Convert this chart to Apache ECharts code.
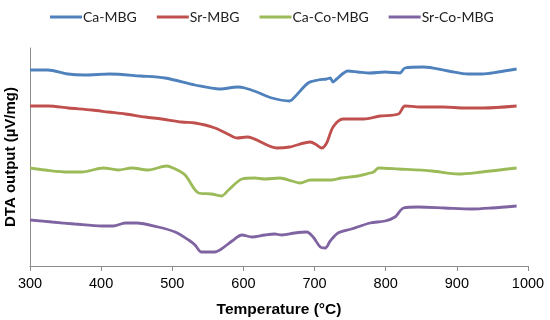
<!DOCTYPE html>
<html><head><meta charset="utf-8">
<script src="https://cdn.jsdelivr.net/npm/echarts@6/dist/echarts.min.js"></script>
<style>html,body{margin:0;padding:0;background:#fff}#c{width:550px;height:320px}</style>
</head><body><div id="c"></div>
<script>
const seriesNames = ['Ca-MBG', 'Sr-MBG', 'Ca-Co-MBG', 'Sr-Co-MBG'];
const xTicks = [300, 400, 500, 600, 700, 800, 900, 1000];
// [temperature °C, DTA output (arbitrary offset units)]
const caMBG = [[300,196],[325,196],[353,192],[377,191],[412,192],[455,190],[490,188],[532,181],[567,177],[592,179],[602,178],[619,174],[640,168],[665,165],[672,169],[691,183],[705,186],[717,187],[722,188],[726,184],[731,187],[747,195],[761,194],[778,193],[799,194],[820,193],[827,198],[853,199],[888,195],[916,192],[935,192],[958,194],[984,197]];
const srMBG = [[300,160],[326,160],[354,158],[387,156],[410,154],[434,152],[462,149],[485,147],[513,144],[532,143],[560,138],[586,129],[591,128],[605,129],[647,118],[665,119],[694,124],[703,121],[710,118],[717,123],[726,139],[740,147],[769,147],[792,150],[818,152],[827,160],[848,159],[881,159],[911,158],[937,158],[984,160]];
const caCoMBG = [[300,98],[321,96],[354,94],[373,94],[403,98],[424,96],[443,98],[466,96],[492,100],[501,98],[518,91],[537,73],[555,72],[569,70],[579,76],[598,87],[616,88],[630,87],[651,88],[668,85],[680,83],[694,86],[724,86],[738,88],[761,90],[778,93],[783,94],[790,98],[818,97],[865,95],[902,92],[935,94],[984,98]];
const srCoMBG = [[300,46],[331,44],[363,42],[401,40],[417,40],[434,43],[450,43],[480,39],[504,34],[523,26],[532,21],[541,14],[560,14],[569,17],[584,25],[598,31],[612,29],[630,31],[644,32],[654,31],[672,33],[689,34],[698,29],[708,19],[715,18],[722,25],[733,33],[752,37],[778,43],[799,45],[813,49],[825,58],[846,59],[883,58],[921,57],[949,58],[984,60]];
const colors = ['#4F81BD', '#C0504D', '#9BBB59', '#8064A2'];
const allData = [caMBG, srMBG, caCoMBG, srCoMBG];

const chart = echarts.init(document.getElementById('c'), null, {renderer: 'canvas'});
chart.setOption({
  animation: false,
  color: colors,
  legend: {
    top: 10, left: 50, padding: 0, itemWidth: 32, itemHeight: 3, itemGap: 20,
    icon: 'rect',
    textStyle: {fontFamily: 'Lato, "Liberation Sans", sans-serif', fontSize: 14, color: '#222', padding: [0,0,0,-4]},
    data: seriesNames
  },
  grid: {left: 30, right: 22, top: 48, bottom: 54, containLabel: false, outerBoundsMode: 'none'},
  xAxis: {
    type: 'value', min: 300, max: 1000, interval: 100,
    name: 'Temperature (°C)', nameLocation: 'middle', nameGap: 36,
    nameTextStyle: {fontFamily: '"Liberation Sans", Arial', fontWeight: 'bold', fontSize: 15.5, color: '#000'},
    axisLine: {show: true, lineStyle: {color: '#8c8c8c', width: 1}},
    axisTick: {show: true, inside: false, length: 5, lineStyle: {color: '#8c8c8c'}},
    axisLabel: {fontFamily: '"Liberation Sans", Arial', fontSize: 14.5, color: '#000', margin: 10,
      formatter: v => xTicks.includes(v) ? String(v) : ''},
    splitLine: {show: false}
  },
  yAxis: {
    type: 'value', min: 0, max: 218,
    name: 'DTA output (µV/mg)', nameLocation: 'middle', nameGap: 12,
    nameTextStyle: {fontFamily: '"Liberation Sans", Arial', fontWeight: 'bold', fontSize: 15, color: '#000'},
    axisLine: {show: true, lineStyle: {color: '#8c8c8c', width: 1}},
    axisTick: {show: false}, axisLabel: {show: false}, splitLine: {show: false}
  },
  series: seriesNames.map((n, i) => ({
    name: n, type: 'line', data: allData[i], showSymbol: false, smooth: 0.3,
    lineStyle: {width: 2.8, color: colors[i]}
  }))
});
</script></body></html>
